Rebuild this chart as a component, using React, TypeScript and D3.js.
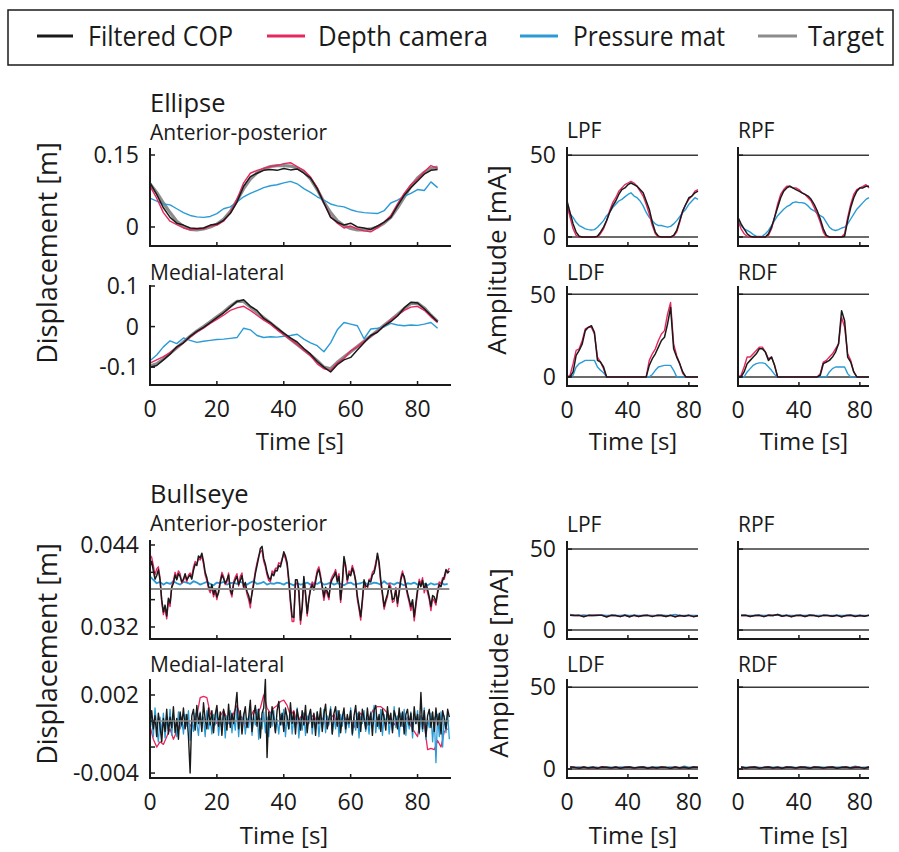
import React from 'react';
import * as d3 from 'd3';

const FONT = '"Open Sans", "Noto Sans", sans-serif';
const INK = '#1a1a1a';
const COLORS = { cop: '#1a1a1a', depth: '#e6285f', mat: '#2b9bd6', target: '#8c8c8c' };

const legendNames = ['Filtered COP', 'Depth camera', 'Pressure mat', 'Target'];

// ---- Ellipse, displacement [m], sampled every 2 s from t = 0
const ellApTarget = [0.090, 0.072, 0.050, 0.030, 0.012, 0.001, -0.005, -0.006, -0.004, 0.000, 0.006, 0.016, 0.032, 0.055, 0.080, 0.100, 0.113, 0.121, 0.126, 0.128, 0.128, 0.127, 0.123, 0.115, 0.100, 0.078, 0.052, 0.030, 0.013, 0.003, -0.003, -0.006, -0.006, -0.004, 0.000, 0.008, 0.020, 0.040, 0.062, 0.085, 0.102, 0.114, 0.122, 0.125];
const ellApCop = [0.092, 0.068, 0.040, 0.020, 0.008, 0.004, -0.002, -0.003, -0.002, 0.004, 0.006, 0.014, 0.028, 0.052, 0.085, 0.105, 0.112, 0.118, 0.120, 0.118, 0.122, 0.119, 0.121, 0.112, 0.102, 0.080, 0.050, 0.020, 0.010, 0.004, 0.008, 0.000, -0.002, -0.005, 0.002, 0.010, 0.020, 0.044, 0.066, 0.082, 0.096, 0.110, 0.118, 0.120];
const ellApDepth = [0.085, 0.060, 0.030, 0.012, 0.005, -0.002, -0.006, -0.005, -0.004, 0.002, 0.004, 0.012, 0.030, 0.058, 0.092, 0.112, 0.118, 0.122, 0.126, 0.128, 0.132, 0.134, 0.126, 0.118, 0.104, 0.082, 0.050, 0.022, 0.008, -0.002, 0.002, -0.004, -0.008, -0.010, -0.002, 0.010, 0.024, 0.048, 0.070, 0.088, 0.100, 0.115, 0.128, 0.122];
const ellApMat = [0.060, 0.054, 0.048, 0.046, 0.038, 0.030, 0.024, 0.021, 0.020, 0.022, 0.028, 0.038, 0.042, 0.052, 0.063, 0.070, 0.076, 0.082, 0.086, 0.088, 0.092, 0.095, 0.090, 0.080, 0.072, 0.063, 0.056, 0.048, 0.044, 0.042, 0.036, 0.032, 0.030, 0.029, 0.028, 0.034, 0.050, 0.056, 0.064, 0.070, 0.078, 0.076, 0.094, 0.082];

const ellMlTarget = [-0.097, -0.092, -0.080, -0.066, -0.052, -0.038, -0.024, -0.011, 0.000, 0.012, 0.024, 0.036, 0.050, 0.062, 0.062, 0.048, 0.035, 0.022, 0.009, -0.004, -0.018, -0.031, -0.044, -0.057, -0.070, -0.084, -0.100, -0.104, -0.088, -0.075, -0.062, -0.049, -0.036, -0.023, -0.010, 0.003, 0.016, 0.030, 0.044, 0.057, 0.058, 0.046, 0.028, 0.012];
const ellMlCop = [-0.100, -0.096, -0.082, -0.068, -0.050, -0.040, -0.024, -0.012, -0.002, 0.010, 0.022, 0.034, 0.048, 0.062, 0.066, 0.050, 0.040, 0.020, 0.010, -0.004, -0.016, -0.028, -0.038, -0.054, -0.068, -0.086, -0.100, -0.112, -0.094, -0.082, -0.076, -0.058, -0.040, -0.022, -0.014, 0.002, 0.012, 0.026, 0.046, 0.060, 0.058, 0.044, 0.028, 0.012];
const ellMlDepth = [-0.090, -0.082, -0.074, -0.064, -0.052, -0.040, -0.026, -0.014, -0.004, 0.008, 0.018, 0.028, 0.040, 0.046, 0.050, 0.040, 0.028, 0.016, 0.006, -0.008, -0.020, -0.032, -0.044, -0.058, -0.072, -0.092, -0.104, -0.108, -0.090, -0.078, -0.060, -0.050, -0.036, -0.024, -0.012, 0.002, 0.016, 0.028, 0.040, 0.048, 0.050, 0.040, 0.024, 0.010];
const ellMlMat = [-0.084, -0.070, -0.050, -0.035, -0.042, -0.028, -0.034, -0.039, -0.036, -0.034, -0.032, -0.031, -0.029, -0.027, -0.004, -0.008, -0.022, -0.027, -0.025, -0.026, -0.024, -0.022, -0.019, -0.031, -0.040, -0.047, -0.062, -0.040, -0.008, 0.010, 0.006, 0.002, -0.030, -0.006, -0.004, -0.001, 0.008, 0.004, 0.002, 0.004, 0.003, 0.006, 0.010, -0.004];

// ---- Ellipse, amplitude [mA], sampled every 2 s from t = 0
const ellLpfCop = [22, 15, 8, 3, 0.5, 0, 0, 0, 0, 0, 0.5, 3, 6, 10, 15, 19, 22, 26, 29, 30, 32, 33, 32, 31, 29, 27, 22, 17, 9, 3, 0.5, 0, 0, 0, 0, 1, 4, 10, 16, 20, 24, 25, 27, 28];
const ellLpfDepth = [20, 12, 5, 1, 0, 0, 0, 0, 0, 0, 0, 2, 5, 10, 16, 21, 24, 28, 30, 32, 33, 34, 33, 31, 28, 25, 20, 14, 7, 2, 0, 0, 0, 0, 0, 0.5, 3, 9, 16, 20, 23, 25, 28, 29];
const ellLpfMat = [17, 14, 12, 9, 7, 6, 5, 4.5, 4.3, 4.5, 6, 8, 10, 13, 15, 18, 20, 22, 23, 24.5, 26, 27, 25, 24, 22, 19, 15, 12, 10, 8, 7, 7, 6.5, 6, 6.5, 8, 10, 12.5, 15, 17, 20, 22, 24, 23];
const ellRpfCop = [12, 8, 5, 2, 0.5, 0, 0, 0, 0, 0, 2, 6, 12, 18, 24, 28, 30, 31, 30, 29, 28, 27, 26, 25, 23, 20, 16, 11, 5, 1, 0, 0, 0, 0, 0, 0.5, 10, 18, 24, 28, 30, 30, 31, 31];
const ellRpfDepth = [10, 5, 2, 0.5, 0, 0, 0, 0, 0, 0, 1, 5, 12, 20, 26, 29, 31, 31, 30, 30, 29, 27, 26, 24, 22, 18, 14, 9, 3, 0, 0, 0, 0, 0, 0, 2, 12, 20, 26, 29, 30, 31, 32, 30];
const ellRpfMat = [9, 7, 5, 4, 3, 1.5, 0.5, 0.3, 0.5, 2, 4, 7, 10, 13, 15, 17, 18.5, 19.5, 21, 21.5, 21, 21, 20.5, 19, 17, 16, 14.5, 13, 12, 9, 6, 4.5, 4, 4.5, 5.5, 6, 8, 11, 14, 17, 19, 21, 23, 24];
const ellLdfCop = [0, 0, 3, 13, 16, 20, 28, 30, 31, 27, 10, 9, 6, 0, 0, 0, 0, 0, 0, 0, 0, 0, 0, 0, 0, 0, 0, 7, 11, 14, 18, 22, 24, 32, 42, 17, 12, 8, 3, 0, 0, 0, 0, 0];
const ellLdfDepth = [0, 1, 8, 16, 17, 22, 29, 30, 30, 26, 12, 9, 5, 0, 0, 0, 0, 0, 0, 0, 0, 0, 0, 0, 0, 0, 0, 10, 14, 17, 22, 26, 28, 38, 45, 20, 13, 8, 2, 0, 0, 0, 0, 0];
const ellLdfMat = [0, 0, 1, 6, 8, 9, 10, 10, 10, 10, 6, 4, 2.5, 0, 0, 0, 0, 0, 0, 0, 0, 0, 0, 0, 0, 0, 0, 0, 1.5, 4, 6, 6.5, 7, 7, 7, 4, 0, 0, 0, 0, 0, 0, 0, 0];
const ellRdfCop = [0, 0, 3, 8, 10, 12, 14, 17, 17, 15, 10, 12, 7, 0, 0, 0, 0, 0, 0, 0, 0, 0, 0, 0, 0, 0, 0, 1, 8, 9, 10, 12, 15, 20, 40, 34, 12, 9, 3, 0, 0, 0, 0, 0];
const ellRdfDepth = [0, 1, 6, 12, 12, 14, 16, 18, 18, 15, 11, 12, 7, 0, 0, 0, 0, 0, 0, 0, 0, 0, 0, 0, 0, 0, 0, 2, 9, 10, 12, 14, 17, 20, 36, 30, 14, 10, 3, 0, 0, 0, 0, 0];
const ellRdfMat = [0, 0, 0, 3, 5, 7, 8, 8.5, 8.5, 8, 6, 4, 1.5, 0, 0, 0, 0, 0, 0, 0, 0, 0, 0, 0, 0, 0, 0, 0, 0, 0, 3, 5, 6, 6, 6, 6, 2, 0, 0, 0, 0, 0, 0, 0];

// ---- Bullseye, displacement [mm]
// AP: COP and depth camera every 0.5 s, mat every 1 s
const bullApTarget = [37.56, 37.56];
const bullApCop = [
  40.8, 41.6, 40.2, 39.0, 39.5, 40.4, 38.9, 36.0, 34.2, 35.2,
  33.6, 36.2, 35.5, 37.8, 38.4, 39.6, 38.9, 39.8, 39.4, 38.6,
  39.0, 39.8, 38.9, 39.3, 39.6, 39.0, 40.3, 41.2, 41.0, 42.4,
  42.1, 42.8, 41.6, 40.0, 39.2, 38.0, 37.4, 38.2, 36.8, 37.6,
  36.4, 37.0, 38.5, 39.6, 39.1, 38.4, 38.9, 39.6, 37.5, 36.8,
  38.3, 38.9, 39.4, 38.2, 38.8, 39.5, 37.9, 38.5, 37.2, 36.6,
  35.5, 36.9, 38.2, 39.8, 41.0, 42.2, 43.5, 43.8, 42.0, 41.2,
  40.0, 39.2, 38.9, 39.8, 39.5, 40.3, 40.2, 41.0, 40.8, 41.8,
  43.0, 42.4, 41.4, 39.0, 36.0, 33.5, 33.4, 38.9, 38.9, 37.5,
  33.0, 35.0, 39.4, 37.0, 34.0, 36.0, 37.5, 38.2, 37.4, 38.6,
  39.9, 40.4, 39.2, 38.0, 36.4, 37.8, 37.2, 36.4, 38.4, 39.0,
  39.4, 40.0, 38.6, 39.4, 36.0, 38.5, 42.3, 41.0, 38.9, 39.8,
  39.5, 40.6, 39.9, 38.8, 36.5, 35.0, 33.5, 36.0, 38.9, 38.0,
  37.9, 38.8, 38.6, 39.6, 39.9, 41.0, 42.8, 41.5, 38.9, 37.0,
  35.0, 36.0, 36.8, 38.0, 37.5, 36.0, 36.2, 37.4, 35.5, 37.0,
  38.9, 39.8, 39.4, 38.2, 37.0, 36.0, 35.0, 36.0, 33.5, 35.5,
  37.5, 38.6, 37.9, 38.8, 37.5, 38.4, 37.5, 36.4, 35.0, 36.6,
  36.4, 35.6, 37.0, 38.2, 37.9, 38.8, 39.4, 40.4, 39.9, 40.2,
];
const bullApDepth = [
  42.5, 42.2, 41.0, 39.6, 40.5, 40.8, 39.2, 35.6, 33.8, 34.8,
  33.2, 35.8, 35.0, 38.0, 38.8, 40.0, 39.2, 40.2, 39.8, 38.4,
  38.8, 39.6, 38.6, 39.6, 39.9, 39.4, 40.8, 41.6, 41.2, 42.0,
  41.8, 42.4, 41.2, 39.6, 38.8, 37.6, 37.0, 37.8, 36.4, 37.2,
  36.0, 37.4, 38.8, 40.0, 39.4, 38.2, 38.6, 39.9, 37.2, 36.4,
  38.6, 39.3, 39.8, 38.0, 39.4, 39.9, 37.5, 38.0, 36.8, 36.0,
  34.8, 37.2, 38.6, 40.2, 41.4, 42.4, 43.0, 43.2, 41.6, 40.8,
  39.6, 38.8, 38.6, 40.2, 39.9, 40.6, 40.6, 41.4, 41.2, 42.0,
  42.6, 42.0, 41.0, 38.4, 35.4, 32.8, 32.8, 38.4, 38.4, 37.0,
  32.4, 34.6, 39.0, 36.6, 33.6, 36.2, 37.8, 38.6, 37.9, 39.0,
  40.3, 40.8, 39.6, 37.6, 35.9, 37.4, 36.8, 36.0, 38.8, 39.4,
  39.8, 40.4, 39.0, 39.8, 35.6, 38.2, 41.8, 40.6, 38.5, 40.2,
  39.9, 41.0, 40.2, 38.4, 36.0, 34.6, 33.0, 35.6, 38.5, 37.6,
  37.5, 39.0, 39.0, 40.0, 40.3, 41.4, 42.4, 41.0, 38.4, 36.6,
  34.6, 35.6, 36.4, 38.4, 37.9, 35.6, 35.8, 37.8, 35.0, 37.4,
  39.3, 40.2, 39.0, 37.8, 36.6, 35.6, 34.4, 35.6, 32.9, 35.0,
  37.0, 39.0, 38.3, 39.2, 37.0, 38.0, 37.0, 36.0, 34.4, 36.2,
  35.8, 35.2, 37.4, 38.6, 38.3, 39.2, 39.0, 40.0, 40.2, 40.6,
];
const bullApMat = [39.4, 38.9, 38.4, 38.6, 38.2, 38.5, 38.3, 38.7, 38.4, 38.2, 38.6, 38.5, 38.3, 38.7, 38.5, 38.2, 38.4, 38.6, 38.3, 38.1, 38.5, 38.4, 38.6, 38.2, 38.4, 38.5, 38.3, 38.6, 38.4, 38.2, 38.5, 38.7, 38.3, 38.4, 38.6, 38.2, 38.4, 38.3, 38.5, 38.4, 38.2, 38.5, 38.3, 38.1, 38.4, 38.2, 38.3, 38.5, 38.2, 38.4, 38.3, 38.6, 38.2, 38.3, 38.5, 38.2, 38.4, 38.3, 38.1, 38.4, 38.5, 38.2, 38.3, 38.4, 38.6, 38.2, 38.3, 38.5, 38.4, 38.2, 38.7, 38.3, 38.4, 38.2, 38.5, 38.3, 38.1, 38.4, 38.3, 38.5, 38.2, 38.4, 38.3, 38.1, 38.4, 38.2, 38.3, 38.5, 38.2, 38.3];
// ML: COP and mat every 0.5 s, depth camera every 1 s
const bullMlTarget = [0, 0];
const bullMlCop = [
  -0.2, 0.8, -0.6, 0.4, -1.2, 0.6, -0.4, -1.6, 0.2, -0.8,
  0.9, -1.0, 0.3, -0.5, 1.1, -0.9, 0.2, -1.4, 0.7, -0.3,
  1.0, -0.6, 0.5, -1.2, -4.0, 0.4, 0.9, -0.7, 1.2, -0.2,
  0.6, -0.8, 1.4, 0.1, -0.6, 1.0, -0.3, 0.8, -0.9, 0.5,
  1.2, -0.4, 0.7, -1.1, 0.9, 0.2, -0.7, 1.3, -0.5, 0.6,
  -0.2, 1.0, 2.2, -0.6, 0.8, -1.0, 0.4, 1.1, -0.5, 0.3,
  1.6, -0.8, 0.5, 1.2, -0.4, 0.9, -1.3, 0.6, 1.0, 3.2,
  -2.8, 0.7, -0.5, 1.1, 0.2, -0.9, 0.8, 1.5, -0.3, 0.6,
  -0.8, 1.0, 0.3, -0.6, 1.4, -0.2, 0.7, -1.0, 0.9, 0.1,
  -0.7, 0.8, -0.3, 1.2, -0.9, 0.4, 0.9, -0.5, 0.6, -1.1,
  0.7, -0.2, 1.0, -0.8, 0.5, 1.3, -0.6, 0.2, 0.9, -1.0,
  0.6, 1.1, -0.4, 0.8, -0.9, 0.3, 1.0, -0.6, 0.5, -0.2,
  0.8, -1.0, 0.4, 1.2, -0.5, 0.7, -0.8, 0.9, 0.2, -0.6,
  1.0, -0.3, 0.6, -1.1, 0.8, 1.2, -0.4, 0.5, -0.8, 0.9,
  0.2, -0.7, 1.1, -0.2, 0.6, -0.9, 0.8, 0.3, -0.6, 1.0,
  -0.4, 0.7, -1.0, 0.5, 0.9, -0.3, 0.6, -0.8, 1.1, -0.2,
  0.5, -0.9, 2.2, -0.6, 0.8, -1.2, 0.4, 0.9, -0.5, 0.7,
  -0.8, 1.0, -0.3, 0.6, -1.0, 0.8, 0.2, -0.6, 0.9, 0.3,
];
const bullMlMat = [
  -0.8, 0.4, -1.2, 1.0, -0.5, -1.6, 0.3, -0.9, 0.6, -1.3,
  0.2, -0.7, 0.9, -1.1, 0.4, -0.3, -1.2, 0.7, -0.6, 0.3,
  -1.0, 0.5, -0.4, 0.8, -1.5, 0.1, -0.8, 0.6, -0.2, -1.1,
  0.7, -0.5, 0.3, -1.2, 0.8, -0.6, 0.2, -1.0, 0.5, -0.3,
  0.9, -1.1, 0.2, -0.6, 0.7, -1.3, 0.4, -0.2, 0.8, -0.9,
  0.3, -0.7, 1.0, -1.2, 0.5, -0.4, 0.6, -1.0, 0.2, -0.5,
  0.8, -1.1, 0.4, -0.3, 0.9, -1.4, 0.2, -0.6, 0.7, -0.9,
  0.3, -1.2, 0.6, -0.4, 0.8, -0.8, 0.1, -1.0, 0.5, -0.3,
  0.9, -1.2, 0.4, -0.6, 0.7, -1.0, 0.3, -0.5, 1.0, -1.3,
  0.2, -0.7, 0.6, -1.1, 0.4, -0.2, 0.8, -1.0, 0.3, -0.6,
  0.7, -1.2, 0.2, -0.5, 0.9, -0.9, 0.4, -0.3, 1.1, -1.0,
  0.3, -0.6, 0.8, -1.2, 0.5, -0.4, 0.7, -0.9, 0.2, -0.5,
  1.0, -1.1, 0.3, -0.7, 0.6, -1.3, 0.4, -0.2, 0.8, -0.8,
  0.2, -1.0, 0.7, -0.4, 1.2, -0.9, 0.3, -0.6, 0.9, -1.1,
  0.5, -0.3, 0.8, -1.0, 0.2, -0.7, 1.1, -0.5, 0.4, -1.2,
  0.6, -0.4, 0.9, -1.1, 0.3, -0.6, 0.7, -1.3, 0.5, -0.2,
  0.8, -1.0, 0.4, -0.8, 1.0, -1.4, 0.2, -0.5, 0.6, -1.6,
  0.3, -3.2, 0.5, -1.2, 0.7, -2.0, 0.4, -0.9, 0.6, -1.4,
];
const bullMlDepth = [-0.4, -1.4, -2.0, -1.6, -1.8, -1.2, -0.6, -1.4, -0.8, -0.2, -0.6, 0.2, -0.4, 0.0, 0.4, 1.8, 1.9, 1.8, 0.6, 0.2, -0.2, 0.4, 0.8, 0.2, -0.3, 0.6, 1.2, 0.4, 0.1, -0.4, 0.3, 0.8, 0.5, 1.0, 2.0, 1.0, 0.6, 1.0, 1.2, 1.5, 1.6, 1.2, 0.4, 0.8, -0.2, 0.3, 0.6, -0.4, 0.2, 0.5, -0.2, 0.3, 0.1, -0.5, 0.2, 0.5, -0.3, 0.0, 0.4, -0.2, 0.2, -0.5, 0.3, 0.6, 0.0, -0.3, 0.5, 1.0, 1.1, 1.1, 0.9, 0.6, 0.2, -0.3, 0.2, 0.4, -0.2, 0.3, -0.4, -0.8, -1.2, 0.4, -0.2, -2.2, -2.1, -2.2, -1.5, -2.0, -0.8, -0.6];

// ---- Bullseye, amplitude [mA], every 3 s from t = 2
const bullLpfCop = [9.2, 9.0, 9.1, 8.2, 9.1, 9.0, 9.2, 9.1, 8.1, 9.1, 9.0, 8.3, 9.2, 8.2, 9.1, 8.4, 9.0, 9.1, 8.3, 9.1, 9.0, 8.4, 9.1, 8.2, 9.0, 8.6, 9.1, 8.3, 8.9];
const bullLpfDepth = [9.2, 9.0, 9.1, 8.4, 9.1, 9.0, 9.2, 9.1, 8.3, 9.1, 9.0, 8.3, 9.2, 8.2, 9.1, 8.4, 9.0, 9.1, 8.6, 9.1, 9.0, 8.4, 9.1, 8.2, 9.0, 8.6, 9.1, 8.3, 8.9];
const bullLpfMat = [9.6, 9.2, 9.1, 9.3, 9.1, 9.2, 9.0, 9.4, 9.1, 9.2, 9.0, 9.1, 9.3, 9.0, 9.2, 9.1, 9.0, 9.2, 9.1, 9.0, 9.3, 9.1, 9.2, 9.6, 9.1, 9.0, 9.2, 9.1, 9.0];
const bullRpfCop = [9.0, 9.1, 8.4, 9.0, 9.1, 8.3, 9.2, 9.0, 9.6, 8.5, 9.1, 8.2, 9.0, 9.1, 8.4, 9.2, 9.0, 8.3, 9.1, 9.0, 8.5, 9.1, 8.2, 9.0, 9.1, 8.4, 9.0, 8.6, 9.1];
const bullRpfDepth = [9.0, 9.1, 8.4, 9.0, 9.1, 8.3, 9.2, 9.0, 9.4, 8.5, 9.1, 8.4, 9.0, 9.1, 8.4, 9.2, 9.0, 8.3, 9.1, 9.0, 8.5, 9.1, 8.2, 9.0, 9.1, 8.6, 9.0, 8.6, 9.1];
const bullRpfMat = [9.4, 9.2, 9.1, 9.0, 9.3, 9.1, 9.2, 9.0, 9.7, 9.1, 9.2, 9.0, 9.1, 9.2, 9.0, 9.3, 9.1, 9.0, 9.2, 9.1, 9.0, 9.2, 9.1, 9.0, 9.3, 9.1, 9.2, 9.0, 9.1];
const bullLdfCop = [1.2, 1.0, 0.5, 1.2, 0.6, 1.1, 0.5, 1.2, 1.0, 0.6, 1.2, 0.5, 1.1, 1.2, 0.6, 1.0, 1.2, 0.5, 1.1, 0.6, 1.2, 1.0, 0.5, 1.2, 0.6, 1.1, 0.5, 1.2, 1.0];
const bullLdfDepth = [1.2, 1.0, 0.6, 1.2, 0.6, 1.1, 0.5, 1.4, 1.0, 0.6, 1.2, 0.5, 1.1, 1.2, 0.6, 1.0, 1.2, 0.5, 1.1, 0.6, 1.2, 1.0, 0.5, 1.2, 0.8, 1.1, 0.5, 1.2, 1.0];
const bullLdfMat = [1.3, 1.1, 1.2, 1.0, 1.1, 1.3, 1.1, 1.0, 1.2, 1.1, 1.0, 1.3, 1.1, 1.2, 1.0, 1.1, 1.3, 1.0, 1.1, 1.2, 1.0, 1.1, 1.3, 1.1, 1.0, 1.7, 1.1, 1.2, 1.0];
const bullRdfCop = [1.2, 0.6, 1.1, 1.2, 0.5, 1.0, 1.2, 0.6, 1.1, 0.5, 1.2, 1.0, 0.6, 1.2, 1.1, 0.5, 1.2, 1.0, 0.6, 1.1, 1.2, 0.5, 1.0, 1.2, 0.6, 1.1, 1.0, 0.5, 1.2];
const bullRdfDepth = [1.2, 0.6, 1.1, 1.2, 0.5, 1.0, 1.2, 0.6, 1.1, 0.5, 1.2, 1.0, 0.6, 1.2, 1.1, 0.5, 1.2, 1.0, 0.6, 1.1, 1.2, 0.5, 1.0, 1.2, 0.6, 1.4, 1.0, 0.5, 1.2];
const bullRdfMat = [1.2, 1.1, 1.0, 1.3, 1.1, 1.0, 1.2, 1.1, 1.3, 1.0, 1.1, 1.2, 1.0, 1.1, 1.3, 1.1, 1.0, 1.2, 1.1, 1.0, 1.3, 1.1, 1.2, 1.0, 1.1, 1.7, 1.0, 1.1, 1.2];

type Series = { v: number[]; t0: number; dt: number; color: string; w: number; k?: number };
type PanelCfg = {
  xr: [number, number]; xd: [number, number];
  yr: [number, number]; yd: [number, number];
  series: Series[];
  yTicks: number[]; yLabels?: string[];
  xTicks: number[]; xLabels?: boolean;
  hLines?: number[];
};

const s = (v: number[], color: string, w: number, dt: number, t0 = 0, k = 1): Series => ({ v, t0, dt, color, w, k });

function Txt({ x, y, size, anchor = 'start', rot = 0, len, children }: any) {
  return (
    <text
      transform={`translate(${x},${y})${rot ? ` rotate(${rot})` : ''}`}
      fontSize={size} textAnchor={anchor} fontFamily={FONT} fill={INK}
      textLength={len} lengthAdjust={len ? 'spacingAndGlyphs' : undefined}
    >{children}</text>
  );
}

function Panel({ p }: { p: PanelCfg }) {
  const x = d3.scaleLinear().domain(p.xd).range(p.xr);
  const y = d3.scaleLinear().domain(p.yd).range(p.yr);
  const [x0, x1] = p.xr;
  const [yb, yt] = p.yr;
  return (
    <g>
      {(p.hLines || []).map((h) => (
        <line key={'h' + h} x1={x0} x2={x1} y1={y(h)} y2={y(h)} stroke="#3a3a3a" strokeWidth={1.5} />
      ))}
      {p.series.map((ser, i) => {
        const k = ser.k ?? 1;
        const pts: [number, number][] = ser.v.map((v, j) => [ser.t0 + j * ser.dt, v * k]);
        const path = d3.line<[number, number]>().x((d) => x(d[0])).y((d) => y(d[1]))(pts) || '';
        return <path key={i} d={path} fill="none" stroke={ser.color} strokeWidth={ser.w} strokeLinejoin="round" />;
      })}
      <line x1={x0} x2={x0} y1={yb} y2={yt} stroke={INK} strokeWidth={2} />
      <line x1={x0 - 1} x2={x1} y1={yb} y2={yb} stroke={INK} strokeWidth={2} />
      {p.yTicks.map((t, i) => (
        <g key={'y' + i}>
          <line x1={x0} x2={x0 + 5} y1={y(t)} y2={y(t)} stroke={INK} strokeWidth={1.5} />
          {p.yLabels && p.yLabels[i] ? (
            <text x={x0 - 11} y={y(t)} dy="0.36em" fontSize={23} textAnchor="end" fontFamily={FONT} fill={INK}>{p.yLabels[i]}</text>
          ) : null}
        </g>
      ))}
      {p.xTicks.map((t) => (
        <g key={'x' + t}>
          <line x1={x(t)} x2={x(t)} y1={yb} y2={yb - 4} stroke={INK} strokeWidth={1.5} />
          {p.xLabels ? (
            <text x={x(t)} y={yb + 32} fontSize={23} textAnchor="middle" fontFamily={FONT} fill={INK}>{t}</text>
          ) : null}
        </g>
      ))}
    </g>
  );
}

const LX: [number, number] = [150, 451];
const LD: [number, number] = [0, 90];
const RD: [number, number] = [0, 86];
const RA: [number, number] = [567, 698];
const RB: [number, number] = [738, 869];
const AMP: [number, number] = [-5.5, 55];

const ampSeries = (cop: number[], depth: number[], mat: number[], dt: number, t0: number) => [
  s(mat, COLORS.mat, 1.4, dt, t0),
  s(depth, COLORS.depth, 1.4, dt, t0),
  s(cop, COLORS.cop, 1.5, dt, t0),
];

const panels: PanelCfg[] = [
  {
    xr: LX, xd: LD, yr: [246, 148], yd: [-0.0396, 0.1646],
    series: [
      s(ellApTarget, COLORS.target, 3.2, 2),
      s(ellApMat, COLORS.mat, 1.4, 2),
      s(ellApDepth, COLORS.depth, 1.4, 2),
      s(ellApCop, COLORS.cop, 1.5, 2),
    ],
    yTicks: [0.15, 0], yLabels: ['0.15', '0'], xTicks: [20, 40, 60, 80],
  },
  {
    xr: LX, xd: LD, yr: [385, 285], yd: [-0.144, 0.1025],
    series: [
      s(ellMlTarget, COLORS.target, 3.2, 2),
      s(ellMlMat, COLORS.mat, 1.4, 2),
      s(ellMlDepth, COLORS.depth, 1.4, 2),
      s(ellMlCop, COLORS.cop, 1.5, 2),
    ],
    yTicks: [0.1, 0, -0.1], yLabels: ['0.1', '0', '-0.1'], xTicks: [0, 20, 40, 60, 80], xLabels: true,
  },
  {
    xr: LX, xd: LD, yr: [639, 540], yd: [0.03024, 0.04473],
    series: [
      s(bullApMat, COLORS.mat, 1.8, 1, 0, 0.001),
      s(bullApDepth, COLORS.depth, 1.4, 0.5, 0, 0.001),
      s(bullApCop, COLORS.cop, 1.5, 0.5, 0, 0.001),
      s(bullApTarget, COLORS.target, 1.8, 89.5, 0, 0.001),
    ],
    yTicks: [0.044, 0.04, 0.036, 0.032], yLabels: ['0.044', '', '', '0.032'], xTicks: [20, 40, 60, 80],
  },
  {
    xr: LX, xd: LD, yr: [778, 679], yd: [-0.00438, 0.00323],
    series: [
      s(bullMlDepth, COLORS.depth, 1.3, 1, 0, 0.001),
      s(bullMlMat, COLORS.mat, 1.3, 0.5, 0, 0.001),
      s(bullMlCop, COLORS.cop, 1.4, 0.5, 0, 0.001),
      s(bullMlTarget, COLORS.target, 1.6, 89.5, 0, 0.001),
    ],
    yTicks: [0.002, 0, -0.002, -0.004], yLabels: ['0.002', '', '', '-0.004'], xTicks: [0, 20, 40, 60, 80], xLabels: true,
  },
  // amplitude panels
  { xr: RA, xd: RD, yr: [246, 147], yd: AMP, series: ampSeries(ellLpfCop, ellLpfDepth, ellLpfMat, 2, 0), yTicks: [50, 0], yLabels: ['50', '0'], xTicks: [40, 80], hLines: [0, 50] },
  { xr: RB, xd: RD, yr: [246, 147], yd: AMP, series: ampSeries(ellRpfCop, ellRpfDepth, ellRpfMat, 2, 0), yTicks: [50, 0], xTicks: [40, 80], hLines: [0, 50] },
  { xr: RA, xd: RD, yr: [386, 286], yd: AMP, series: ampSeries(ellLdfCop, ellLdfDepth, ellLdfMat, 2, 0), yTicks: [50, 0], yLabels: ['50', '0'], xTicks: [0, 40, 80], xLabels: true, hLines: [0, 50] },
  { xr: RB, xd: RD, yr: [386, 286], yd: AMP, series: ampSeries(ellRdfCop, ellRdfDepth, ellRdfMat, 2, 0), yTicks: [50, 0], xTicks: [0, 40, 80], xLabels: true, hLines: [0, 50] },
  { xr: RA, xd: RD, yr: [639, 541], yd: AMP, series: ampSeries(bullLpfCop, bullLpfDepth, bullLpfMat, 3, 2), yTicks: [50, 0], yLabels: ['50', '0'], xTicks: [40, 80], hLines: [0, 50] },
  { xr: RB, xd: RD, yr: [639, 541], yd: AMP, series: ampSeries(bullRpfCop, bullRpfDepth, bullRpfMat, 3, 2), yTicks: [50, 0], xTicks: [40, 80], hLines: [0, 50] },
  { xr: RA, xd: RD, yr: [778, 679], yd: AMP, series: ampSeries(bullLdfCop, bullLdfDepth, bullLdfMat, 3, 2), yTicks: [50, 0], yLabels: ['50', '0'], xTicks: [0, 40, 80], xLabels: true, hLines: [0, 50] },
  { xr: RB, xd: RD, yr: [778, 679], yd: AMP, series: ampSeries(bullRdfCop, bullRdfDepth, bullRdfMat, 3, 2), yTicks: [50, 0], xTicks: [0, 40, 80], xLabels: true, hLines: [0, 50] },
];

const legendLayout = [
  { x1: 37, x2: 73, tx: 88, len: 145 },
  { x1: 267, x2: 305, tx: 318, len: 170 },
  { x1: 520, x2: 558, tx: 573, len: 152 },
  { x1: 758, x2: 797, tx: 808, len: 76 },
];
const legendColors = [COLORS.cop, COLORS.depth, COLORS.mat, COLORS.target];

export default function App() {
  return (
    <svg width={899} height={852} style={{ position: 'absolute', left: 0, top: 0, background: '#fff' }}>
      <rect x={0} y={0} width={899} height={852} fill="#fff" />
      {/* legend */}
      <rect x={8} y={10} width={885} height={55} fill="none" stroke={INK} strokeWidth={1.5} />
      {legendNames.map((n, i) => (
        <g key={n}>
          <line x1={legendLayout[i].x1} x2={legendLayout[i].x2} y1={36} y2={36} stroke={legendColors[i]} strokeWidth={3} />
          <Txt x={legendLayout[i].tx} y={46} size={28} len={legendLayout[i].len}>{n}</Txt>
        </g>
      ))}

      {panels.map((p, i) => <Panel key={i} p={p} />)}

      {/* titles */}
      <Txt x={150} y={112} size={25.5}>Ellipse</Txt>
      <Txt x={150} y={140} size={21}>Anterior-posterior</Txt>
      <Txt x={150} y={280} size={21}>Medial-lateral</Txt>
      <Txt x={150} y={503} size={25.5}>Bullseye</Txt>
      <Txt x={150} y={531} size={21}>Anterior-posterior</Txt>
      <Txt x={150} y={672} size={21}>Medial-lateral</Txt>

      <Txt x={567} y={138} size={21}>LPF</Txt>
      <Txt x={738} y={138} size={21}>RPF</Txt>
      <Txt x={567} y={280} size={21}>LDF</Txt>
      <Txt x={738} y={280} size={21}>RDF</Txt>
      <Txt x={567} y={532} size={21}>LPF</Txt>
      <Txt x={738} y={532} size={21}>RPF</Txt>
      <Txt x={567} y={672} size={21}>LDF</Txt>
      <Txt x={738} y={672} size={21}>RDF</Txt>

      {/* axis titles */}
      <Txt x={57} y={253} size={27} anchor="middle" rot={-90}>Displacement [m]</Txt>
      <Txt x={57} y={654} size={27} anchor="middle" rot={-90}>Displacement [m]</Txt>
      <Txt x={506} y={260} size={26} anchor="middle" rot={-90}>Amplitude [mA]</Txt>
      <Txt x={508} y={663} size={26} anchor="middle" rot={-90}>Amplitude [mA]</Txt>

      <Txt x={300} y={450} size={24} anchor="middle">Time [s]</Txt>
      <Txt x={284} y={844} size={24} anchor="middle">Time [s]</Txt>
      <Txt x={633} y={450} size={24} anchor="middle">Time [s]</Txt>
      <Txt x={804} y={450} size={24} anchor="middle">Time [s]</Txt>
      <Txt x={633} y={844} size={24} anchor="middle">Time [s]</Txt>
      <Txt x={804} y={844} size={24} anchor="middle">Time [s]</Txt>
    </svg>
  );
}
